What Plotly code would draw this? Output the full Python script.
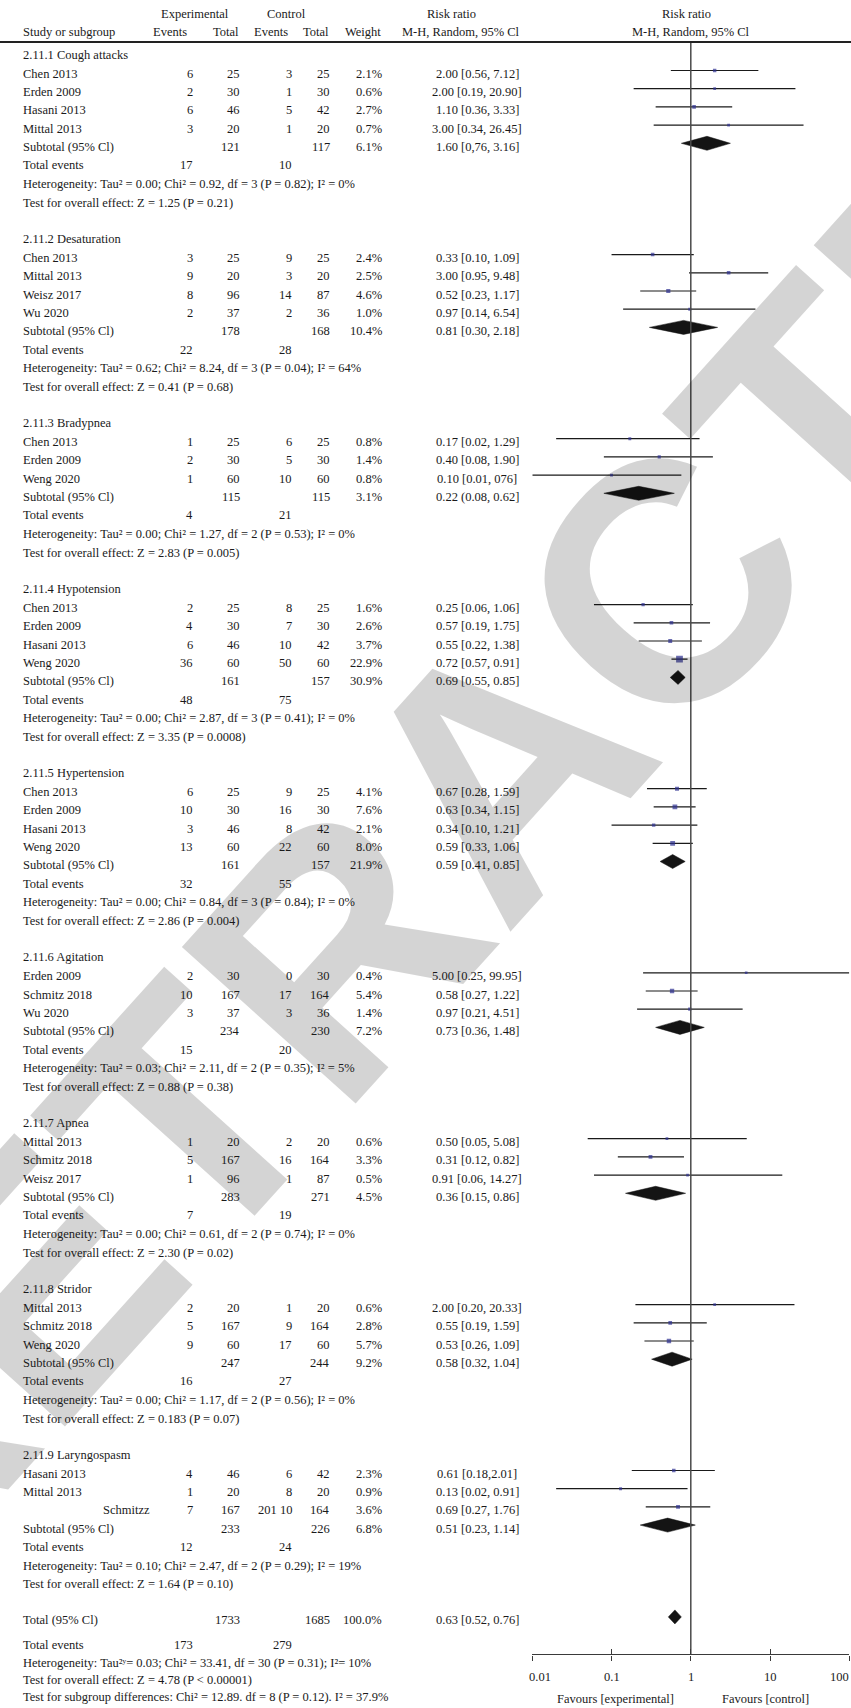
import math
import plotly.graph_objects as go

# ---------------- data ----------------
group_titles = ["2.11.1 Cough attacks", "2.11.2 Desaturation", "2.11.3 Bradypnea",
                "2.11.4 Hypotension", "2.11.5 Hypertension", "2.11.6 Agitation",
                "2.11.7 Apnea", "2.11.8 Stridor", "2.11.9 Laryngospasm"]

study_names = [
    ["Chen 2013", "Erden 2009", "Hasani 2013", "Mittal 2013"],
    ["Chen 2013", "Mittal 2013", "Weisz 2017", "Wu 2020"],
    ["Chen 2013", "Erden 2009", "Weng 2020"],
    ["Chen 2013", "Erden 2009", "Hasani 2013", "Weng 2020"],
    ["Chen 2013", "Erden 2009", "Hasani 2013", "Weng 2020"],
    ["Erden 2009", "Schmitz 2018", "Wu 2020"],
    ["Mittal 2013", "Schmitz 2018", "Weisz 2017"],
    ["Mittal 2013", "Schmitz 2018", "Weng 2020"],
    ["Hasani 2013", "Mittal 2013", "Schmitzz"],
]
exp_events = [["6", "2", "6", "3"], ["3", "9", "8", "2"], ["1", "2", "1"], ["2", "4", "6", "36"],
              ["6", "10", "3", "13"], ["2", "10", "3"], ["1", "5", "1"], ["2", "5", "9"], ["4", "1", "7"]]
exp_total = [["25", "30", "46", "20"], ["25", "20", "96", "37"], ["25", "30", "60"], ["25", "30", "46", "60"],
             ["25", "30", "46", "60"], ["30", "167", "37"], ["20", "167", "96"], ["20", "167", "60"],
             ["46", "20", "167"]]
ctrl_events = [["3", "1", "5", "1"], ["9", "3", "14", "2"], ["6", "5", "10"], ["8", "7", "10", "50"],
               ["9", "16", "8", "22"], ["0", "17", "3"], ["2", "16", "1"], ["1", "9", "17"], ["6", "8", "201 10"]]
ctrl_total = [["25", "30", "42", "20"], ["25", "20", "87", "36"], ["25", "30", "60"], ["25", "30", "42", "60"],
              ["25", "30", "42", "60"], ["30", "164", "36"], ["20", "164", "87"], ["20", "164", "60"],
              ["42", "20", "164"]]
weights = [[2.1, 0.6, 2.7, 0.7], [2.4, 2.5, 4.6, 1.0], [0.8, 1.4, 0.8], [1.6, 2.6, 3.7, 22.9],
           [4.1, 7.6, 2.1, 8.0], [0.4, 5.4, 1.4], [0.6, 3.3, 0.5], [0.6, 2.8, 5.7], [2.3, 0.9, 3.6]]
rr = [[2.00, 2.00, 1.10, 3.00], [0.33, 3.00, 0.52, 0.97], [0.17, 0.40, 0.10], [0.25, 0.57, 0.55, 0.72],
      [0.67, 0.63, 0.34, 0.59], [5.00, 0.58, 0.97], [0.50, 0.31, 0.91], [2.00, 0.55, 0.53], [0.61, 0.13, 0.69]]
rr_lo = [[0.56, 0.19, 0.36, 0.34], [0.10, 0.95, 0.23, 0.14], [0.02, 0.08, 0.01], [0.06, 0.19, 0.22, 0.57],
         [0.28, 0.34, 0.10, 0.33], [0.25, 0.27, 0.21], [0.05, 0.12, 0.06], [0.20, 0.19, 0.26], [0.18, 0.02, 0.27]]
rr_hi = [[7.12, 20.90, 3.33, 26.45], [1.09, 9.48, 1.17, 6.54], [1.29, 1.90, 0.76], [1.06, 1.75, 1.38, 0.91],
         [1.59, 1.15, 1.21, 1.06], [99.95, 1.22, 4.51], [5.08, 0.82, 14.27], [20.33, 1.59, 1.09],
         [2.01, 0.91, 1.76]]
ci_labels = [
    ["2.00 [0.56, 7.12]", "2.00 [0.19, 20.90]", "1.10 [0.36, 3.33]", "3.00 [0.34, 26.45]"],
    ["0.33 [0.10, 1.09]", "3.00 [0.95, 9.48]", "0.52 [0.23, 1.17]", "0.97 [0.14, 6.54]"],
    ["0.17 [0.02, 1.29]", "0.40 [0.08, 1.90]", "0.10 [0.01, 076]"],
    ["0.25 [0.06, 1.06]", "0.57 [0.19, 1.75]", "0.55 [0.22, 1.38]", "0.72 [0.57, 0.91]"],
    ["0.67 [0.28, 1.59]", "0.63 [0.34, 1.15]", "0.34 [0.10, 1.21]", "0.59 [0.33, 1.06]"],
    ["5.00 [0.25, 99.95]", "0.58 [0.27, 1.22]", "0.97 [0.21, 4.51]"],
    ["0.50 [0.05, 5.08]", "0.31 [0.12, 0.82]", "0.91 [0.06, 14.27]"],
    ["2.00 [0.20, 20.33]", "0.55 [0.19, 1.59]", "0.53 [0.26, 1.09]"],
    ["0.61 [0.18,2.01]", "0.13 [0.02, 0.91]", "0.69 [0.27, 1.76]"],
]

sub_exp_total = ["121", "178", "115", "161", "161", "234", "283", "247", "233"]
sub_ctrl_total = ["117", "168", "115", "157", "157", "230", "271", "244", "226"]
sub_weight = ["6.1%", "10.4%", "3.1%", "30.9%", "21.9%", "7.2%", "4.5%", "9.2%", "6.8%"]
sub_rr = [1.60, 0.81, 0.22, 0.69, 0.59, 0.73, 0.36, 0.58, 0.51]
sub_lo = [0.76, 0.30, 0.08, 0.55, 0.41, 0.36, 0.15, 0.32, 0.23]
sub_hi = [3.16, 2.18, 0.62, 0.85, 0.85, 1.48, 0.86, 1.04, 1.14]
sub_labels = ["1.60 [0,76, 3.16]", "0.81 [0.30, 2.18]", "0.22 (0.08, 0.62]", "0.69 [0.55, 0.85]",
              "0.59 [0.41, 0.85]", "0.73 [0.36, 1.48]", "0.36 [0.15, 0.86]", "0.58 [0.32, 1.04]",
              "0.51 [0.23, 1.14]"]
te_exp = ["17", "22", "4", "48", "32", "15", "7", "16", "12"]
te_ctrl = ["10", "28", "21", "75", "55", "20", "19", "27", "24"]
het_texts = [
    "Heterogeneity: Tau² = 0.00; Chi² = 0.92, df = 3 (P = 0.82); I² = 0%",
    "Heterogeneity: Tau² = 0.62; Chi² = 8.24, df = 3 (P = 0.04); I² = 64%",
    "Heterogeneity: Tau² = 0.00; Chi² = 1.27, df = 2 (P = 0.53); I² = 0%",
    "Heterogeneity: Tau² = 0.00; Chi² = 2.87, df = 3 (P = 0.41); I² = 0%",
    "Heterogeneity: Tau² = 0.00; Chi² = 0.84, df = 3 (P = 0.84); I² = 0%",
    "Heterogeneity: Tau² = 0.03; Chi² = 2.11, df = 2 (P = 0.35); I² = 5%",
    "Heterogeneity: Tau² = 0.00; Chi² = 0.61, df = 2 (P = 0.74); I² = 0%",
    "Heterogeneity: Tau² = 0.00; Chi² = 1.17, df = 2 (P = 0.56); I² = 0%",
    "Heterogeneity: Tau² = 0.10; Chi² = 2.47, df = 2 (P = 0.29); I² = 19%",
]
test_texts = [
    "Test for overall effect: Z = 1.25 (P = 0.21)",
    "Test for overall effect: Z = 0.41 (P = 0.68)",
    "Test for overall effect: Z = 2.83 (P = 0.005)",
    "Test for overall effect: Z = 3.35 (P = 0.0008)",
    "Test for overall effect: Z = 2.86 (P = 0.004)",
    "Test for overall effect: Z = 0.88 (P = 0.38)",
    "Test for overall effect: Z = 2.30 (P = 0.02)",
    "Test for overall effect: Z = 0.183 (P = 0.07)",
    "Test for overall effect: Z = 1.64 (P = 0.10)",
]

total_exp_total = "1733"
total_ctrl_total = "1685"
total_weight = "100.0%"
total_rr, total_lo, total_hi = 0.63, 0.52, 0.76
total_label = "0.63 [0.52, 0.76]"
total_te_exp, total_te_ctrl = "173", "279"
total_het = "Heterogeneity: Tau²ʸ= 0.03; Chi² = 33.41, df = 30 (P = 0.31); I²= 10%"
total_test = "Test for overall effect: Z = 4.78 (P < 0.00001)"
subgroup_test = "Test for subgroup differences: Chi² = 12.89. df = 8 (P = 0.12). I² = 37.9%"

tick_vals = [0.01, 0.1, 1, 10, 100]
tick_labels = ["0.01", "0.1", "1", "10", "100"]

# ---------------- layout constants ----------------
W, H = 851, 1708
SERIF = "Liberation Serif, Times New Roman, serif"
FS = 12.5
TXT = "#1a1a1a"
AXC = "#3a3a3a"
Y_HEAD1, Y_HEAD2, Y_RULE = 14, 32, 42
Y_FIRST_GROUP = 51
TEXT_DY = 3.5
STEP = 18.2
HEAD_TO_STUDY = 19.5
GAP_LINE = 18.6
TEST_TO_HEAD = 36.0
TOTAL_GAP = 36.0
BOTTOM_GAPS = [24.5, 18, 17, 17]
Y_AXIS = 1654.3
Y_TICKLAB = 1677.3
Y_FAVOURS = 1699.3
AX_L, AX_R = 532.3, 849.3
NAME_X = 22
NAME_INDENT = {"Schmitzz": 102}
EXP_EV_R, EXP_TOT_R, CTL_EV_R, CTL_TOT_R, WEIGHT_R, CI_C = 194, 241, 293, 331, 383, 477
DIAMOND_H = 7

ann = []
# watermark (drawn first, under the table text)
ann.append(dict(text="<b>RETRACTED</b>", xref="paper", yref="y", x=499 / W, y=768,
                xanchor="center", yanchor="middle", textangle=-48, showarrow=False,
                font=dict(family="Liberation Sans, Arial, sans-serif", size=340,
                          color="rgba(0,0,0,0.17)")))


def txt(s, x, y, anchor="left", dy=TEXT_DY):
    ann.append(dict(text=s, xref="paper", yref="y", x=x / W, y=y + dy, xanchor=anchor,
                    yanchor="middle", showarrow=False, borderpad=0,
                    font=dict(family=SERIF, size=FS, color=TXT)))


# headers
txt("Experimental", 194.6, Y_HEAD1, "center", 0)
txt("Control", 286.8, Y_HEAD1, "center", 0)
txt("Risk ratio", 451, Y_HEAD1, "center", 0)
txt("Risk ratio", 686.5, Y_HEAD1, "center", 0)
txt("Study or subgroup", NAME_X, Y_HEAD2, "left", 0)
txt("Events", 170.4, Y_HEAD2, "center", 0)
txt("Total", 225.7, Y_HEAD2, "center", 0)
txt("Events", 271.4, Y_HEAD2, "center", 0)
txt("Total", 316.4, Y_HEAD2, "center", 0)
txt("Weight", 362.5, Y_HEAD2, "center", 0)
txt("M-H, Random, 95% Cl", 460.7, Y_HEAD2, "center", 0)
txt("M-H, Random, 95% Cl", 691, Y_HEAD2, "center", 0)

fig = go.Figure()
ci_x, ci_y = [], []
mk_x, mk_y, mk_s = [], [], []
diamonds = []

y = Y_FIRST_GROUP
for g in range(len(group_titles)):
    txt(group_titles[g], NAME_X, y)
    y += HEAD_TO_STUDY
    for i, name in enumerate(study_names[g]):
        txt(name, NAME_INDENT.get(name, NAME_X), y)
        txt(exp_events[g][i], EXP_EV_R, y, "right")
        txt(exp_total[g][i], EXP_TOT_R, y, "right")
        txt(ctrl_events[g][i], CTL_EV_R, y, "right")
        txt(ctrl_total[g][i], CTL_TOT_R, y, "right")
        txt(f"{weights[g][i]:.1f}%", WEIGHT_R, y, "right")
        txt(ci_labels[g][i], CI_C, y, "center")
        ci_x += [rr_lo[g][i], rr_hi[g][i], None]
        ci_y += [y, y, None]
        mk_x.append(rr[g][i])
        mk_y.append(y)
        mk_s.append(2 + math.sqrt(weights[g][i]))
        y += STEP
    txt("Subtotal (95% Cl)", NAME_X, y)
    txt(sub_exp_total[g], EXP_TOT_R, y, "right")
    txt(sub_ctrl_total[g], CTL_TOT_R, y, "right")
    txt(sub_weight[g], WEIGHT_R, y, "right")
    txt(sub_labels[g], CI_C, y, "center")
    diamonds.append((sub_lo[g], sub_rr[g], sub_hi[g], y))
    y += GAP_LINE
    txt("Total events", NAME_X, y)
    txt(te_exp[g], EXP_EV_R, y, "right")
    txt(te_ctrl[g], CTL_EV_R, y, "right")
    y += GAP_LINE
    txt(het_texts[g], NAME_X, y)
    y += GAP_LINE
    txt(test_texts[g], NAME_X, y)
    y += TEST_TO_HEAD if g < len(group_titles) - 1 else TOTAL_GAP

# overall
txt("Total (95% Cl)", NAME_X, y)
txt(total_exp_total, EXP_TOT_R, y, "right")
txt(total_ctrl_total, CTL_TOT_R, y, "right")
txt(total_weight, WEIGHT_R, y, "right")
txt(total_label, CI_C, y, "center")
diamonds.append((total_lo, total_rr, total_hi, y))
y += BOTTOM_GAPS[0]
txt("Total events", NAME_X, y)
txt(total_te_exp, EXP_EV_R, y, "right")
txt(total_te_ctrl, CTL_EV_R, y, "right")
y += BOTTOM_GAPS[1]
txt(total_het, NAME_X, y)
y += BOTTOM_GAPS[2]
txt(total_test, NAME_X, y)
y += BOTTOM_GAPS[3]
txt(subgroup_test, NAME_X, y)

txt("Favours [experimental]", 615, Y_FAVOURS, "center", 0)
txt("Favours [control]", 765, Y_FAVOURS, "center", 0)

# tick labels placed on the log axis scale
for v, lab in zip(tick_vals, tick_labels):
    anchor = "left" if v == tick_vals[0] else ("right" if v == tick_vals[-1] else "center")
    shift = -4 if anchor == "left" else (1 if anchor == "right" else 0)
    ann.append(dict(text=lab, xref="x", yref="y", x=math.log10(v), y=Y_TICKLAB,
                    xanchor=anchor, yanchor="middle", xshift=shift, showarrow=False, borderpad=0,
                    font=dict(family=SERIF, size=FS, color=TXT)))

# vertical line of no effect
fig.add_trace(go.Scatter(x=[1, 1], y=[Y_RULE, Y_AXIS], mode="lines", xaxis="x2",
                         line=dict(color="#4a4a4a", width=1.5), hoverinfo="skip"))
# confidence intervals
fig.add_trace(go.Scatter(x=ci_x, y=ci_y, mode="lines", line=dict(color="#1a1a1a", width=1.2),
                         hoverinfo="skip"))
# study squares
fig.add_trace(go.Scatter(x=mk_x, y=mk_y, mode="markers",
                         marker=dict(symbol="square", size=mk_s, color="#2e3192", line=dict(width=0))))
# diamonds
for lo, est, hi, yy in diamonds:
    fig.add_trace(go.Scatter(x=[lo, est, hi, est, lo], y=[yy, yy - DIAMOND_H, yy, yy + DIAMOND_H, yy],
                             mode="lines", fill="toself", fillcolor="#141414",
                             line=dict(color="#141414", width=0.5), hoverinfo="skip"))

axis_common = dict(type="log", range=[-2, 2], domain=[AX_L / W, AX_R / W], anchor="free",
                   position=(H - Y_AXIS) / H, showgrid=False, zeroline=False, showline=True,
                   linecolor=AXC, linewidth=1.4, tickvals=tick_vals, ticklen=5, tickwidth=1.4,
                   tickcolor=AXC, fixedrange=True, showticklabels=False)

fig.update_layout(
    width=W, height=H, margin=dict(l=0, r=0, t=0, b=0),
    paper_bgcolor="white", plot_bgcolor="white", showlegend=False,
    xaxis=dict(**axis_common, ticks="outside"),
    xaxis2=dict(**axis_common, ticks="inside", overlaying="x"),
    yaxis=dict(range=[H, 0], domain=[0, 1], visible=False, fixedrange=True),
    annotations=ann,
    shapes=[dict(type="line", xref="paper", yref="y", x0=0, x1=1, y0=Y_RULE, y1=Y_RULE,
                 line=dict(color="#222", width=1.8))],
)

fig.write_html("out.html")
